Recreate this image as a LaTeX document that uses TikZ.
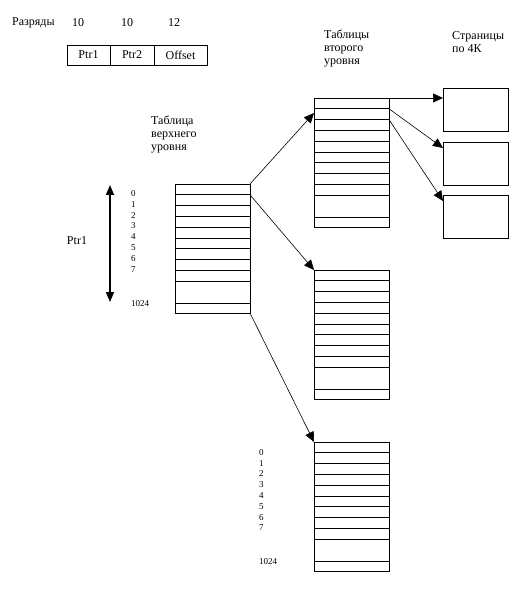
\documentclass[tikz,border=0pt]{standalone}
\usepackage{fontspec}
\setmainfont{Liberation Serif}
\usetikzlibrary{arrows.meta,calc,positioning}

\begin{document}
\begin{tikzpicture}[
    x=1pt,y=-1pt,
    lbl/.style={inner sep=0pt,align=left,font=\fontsize{12}{13}\selectfont},
    idx/.style={inner sep=0pt,anchor=west,font=\fontsize{9}{10}\selectfont},
    fld/.style={draw,line width=0.8pt,minimum height=20pt,inner sep=0pt,outer sep=0pt,
      font=\fontsize{12}{13}\selectfont},
    tbl/.style={draw,line width=0.8pt,anchor=north west,minimum width=75pt,
      minimum height=129pt,inner sep=0pt,outer sep=0pt},
    pagebox/.style={draw,line width=0.8pt,anchor=north west,minimum width=65pt,
      minimum height=43pt,inner sep=0pt,outer sep=0pt},
    ptr/.style={-{Triangle[length=10pt,width=9pt]},line width=0.6pt}
  ]
    \useasboundingbox (0,0) rectangle (527,593);
    % address format
    \node[lbl,anchor=west] (bits) at (12,23) {Разряды};
    \node[lbl] (b1) at (78,23) {10};
    \node[lbl] (b2) at (127,23) {10};
    \node[lbl] (b3) at (174,23) {12};
    \node[fld,minimum width=43pt] (f1) at (88.5,55) {Ptr1};
    \node[fld,minimum width=44pt,right=0pt of f1] (f2) {Ptr2};
    \node[fld,minimum width=53pt,right=0pt of f2] (f3) {Offset};
    % tables
    \node[tbl] (top) at (175,184) {};
    \node[tbl] (sec1) at (314,98) {};
    \node[tbl] (sec2) at (314,270) {};
    \node[tbl] (sec3) at (314,442) {};
    \foreach \t in {top,sec1,sec2,sec3}
      \foreach \y in {10.8,21.6,32.4,43.2,54,64.8,75.6,86.4,97.2,119}
        \draw[line width=0.8pt] ($(\t.north west)+(0,\y)$) -- ($(\t.north east)+(0,\y)$);
    \node[pagebox] (pg1) at (443,88) {};
    \node[pagebox] (pg2) at (443,142) {};
    \node[pagebox] (pg3) at (443,195) {};
    % titles
    \node[lbl,anchor=west] (ttop) at (151,135) {Таблица\\верхнего\\уровня};
    \node[lbl,anchor=west] (tsec) at (324,49) {Таблицы\\второго\\уровня};
    \node[lbl,anchor=west] (tpg) at (452,42) {Страницы\\по 4К};
    % indices
    \foreach \k in {0,...,7} {
      \node[idx] (ia\k) at ($(top.north west)+(-44,{9.5+10.8*\k})$) {\k};
      \node[idx] (ib\k) at ($(sec3.north west)+(-55,{10.4+10.8*\k})$) {\k};
    }
    \node[idx] (ia) at ($(top.north west)+(-44,120)$) {1024};
    \node[idx] (ib) at ($(sec3.north west)+(-55,120)$) {1024};
    \coordinate (rtop) at (110,185);
    \coordinate (rbot) at (110,302);
    \draw[{Triangle[length=10pt,width=8pt]}-{Triangle[length=10pt,width=8pt]},line width=1.5pt] (rtop) -- (rbot);
    \node[lbl] (rlbl) at (77,241) {Ptr1};
    % pointers
    \draw[ptr] (top.north east) -- ($(sec1.north west)+(0,15)$);
    \draw[ptr] ($(top.north east)+(0,10.8)$) -- (sec2.north west);
    \draw[ptr] (top.south east) -- (sec3.north west);
    \draw[ptr] (sec1.north east) -- ($(pg1.north west)+(0,10)$);
    \draw[ptr] ($(sec1.north east)+(0,10.8)$) -- ($(pg2.north west)+(0,6)$);
    \draw[ptr] ($(sec1.north east)+(0,21.6)$) -- ($(pg3.north west)+(0,6)$);
  \end{tikzpicture}
\end{document}
